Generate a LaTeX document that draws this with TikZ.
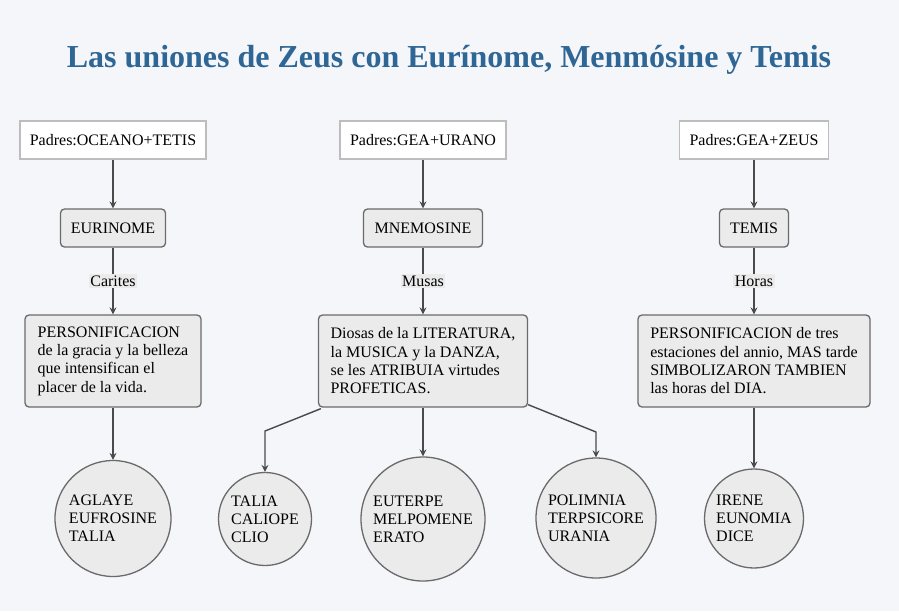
\documentclass[tikz,border=0pt]{standalone}
\usepackage{fontspec}
\setmainfont{Liberation Serif}
\usetikzlibrary{arrows.meta}
\definecolor{bgc}{HTML}{F5F6FA}
\definecolor{titlec}{HTML}{2E6695}
\definecolor{boxfill}{HTML}{EBEBEB}
\definecolor{boxline}{HTML}{6A6A6A}
\definecolor{parline}{HTML}{BDBDBD}
\definecolor{edgec}{HTML}{4A4A4A}
\tikzset{
  parent/.style={draw=parline, line width=1.6pt, fill=white, minimum height=38pt, inner sep=0pt, font=\fontsize{16}{18}\selectfont},
  person/.style={draw=boxline, line width=1.3pt, fill=boxfill, rounded corners=4pt, minimum height=38pt, inner sep=0pt, font=\fontsize{16}{18}\selectfont},
  descbox/.style={draw=boxline, line width=1.3pt, fill=boxfill, rounded corners=4pt, minimum height=92pt, inner sep=0pt, align=left, font=\fontsize{16}{18.3}\selectfont},
  goddess/.style={circle, draw=boxline, line width=1.3pt, fill=boxfill, inner sep=0pt, align=left, font=\fontsize{16}{18}\selectfont},
  conn/.style={draw=edgec, line width=1.4pt, -{Stealth[length=7pt,width=7pt,inset=2.5pt]}},
  elabel/.style={fill=boxfill, inner sep=1.5pt, font=\fontsize{16}{18}\selectfont}
}
\begin{document}
\begin{tikzpicture}[x=1pt,y=-1pt]
\fill[bgc] (0,0) rectangle (899,611);
\useasboundingbox (0,0) rectangle (899,611);
\node[text=titlec, font=\fontsize{32}{36}\selectfont\bfseries] (title) at (449,60) {Las uniones de Zeus con Eurínome, Menmósine y Temis};

% parents
\node[parent, minimum width=186pt] (p1) at (113,140) {Padres:OCEANO+TETIS};
\node[parent, minimum width=166pt] (p2) at (423,140) {Padres:GEA+URANO};
\node[parent, minimum width=149pt] (p3) at (754,140) {Padres:GEA+ZEUS};

% persons
\node[person, minimum width=105pt] (eur) at (113,228) {EURINOME};
\node[person, minimum width=119pt] (mne) at (423,228) {MNEMOSINE};
\node[person, minimum width=69pt] (tem) at (754,228) {TEMIS};

% descriptions
\node[descbox, minimum width=176pt] (d1) at (113,361) {PERSONIFICACION\\de la gracia y la belleza\\que intensifican el\\placer de la vida.};
\node[descbox, minimum width=209pt] (d2) at (423,361) {Diosas de la LITERATURA,\\la MUSICA y la DANZA,\\se les ATRIBUIA virtudes\\PROFETICAS.};
\node[descbox, minimum width=232pt] (d3) at (754,361) {PERSONIFICACION de tres\\estaciones del annio, MAS tarde\\SIMBOLIZARON TAMBIEN\\las horas del DIA.};

% goddesses
\node[goddess, minimum size=116pt] (c1) at (113,518.5) {AGLAYE\\EUFROSINE\\TALIA};
\node[goddess, minimum size=93pt] (c2) at (265,519) {TALIA\\CALIOPE\\CLIO};
\node[goddess, minimum size=124pt] (c3) at (423,519) {EUTERPE\\MELPOMENE\\ERATO};
\node[goddess, minimum size=120pt] (c4) at (596,518) {POLIMNIA\\TERPSICORE\\URANIA};
\node[goddess, minimum size=99pt] (c5) at (754,518.5) {IRENE\\EUNOMIA\\DICE};

\coordinate (b1) at (265,431);
\coordinate (b2) at (596,432);

% connectors
\draw[conn] (p1) -- (eur);
\draw[conn] (p2) -- (mne);
\draw[conn] (p3) -- (tem);
\draw[conn] (eur) -- node[elabel] (l1) {Carites} (d1);
\draw[conn] (mne) -- node[elabel] (l2) {Musas} (d2);
\draw[conn] (tem) -- node[elabel] (l3) {Horas} (d3);
\draw[conn] (d1) -- (c1);
\draw[conn] (d3) -- (c5);
\draw[conn] (d2) -- (c3);
\draw[conn] ([xshift=3pt,yshift=-1pt]d2.south west) -- (b1) -- (c2.north);
\draw[conn] ([yshift=3pt]d2.south east) -- (b2) -- (c4.north);
\end{tikzpicture}
\end{document}
